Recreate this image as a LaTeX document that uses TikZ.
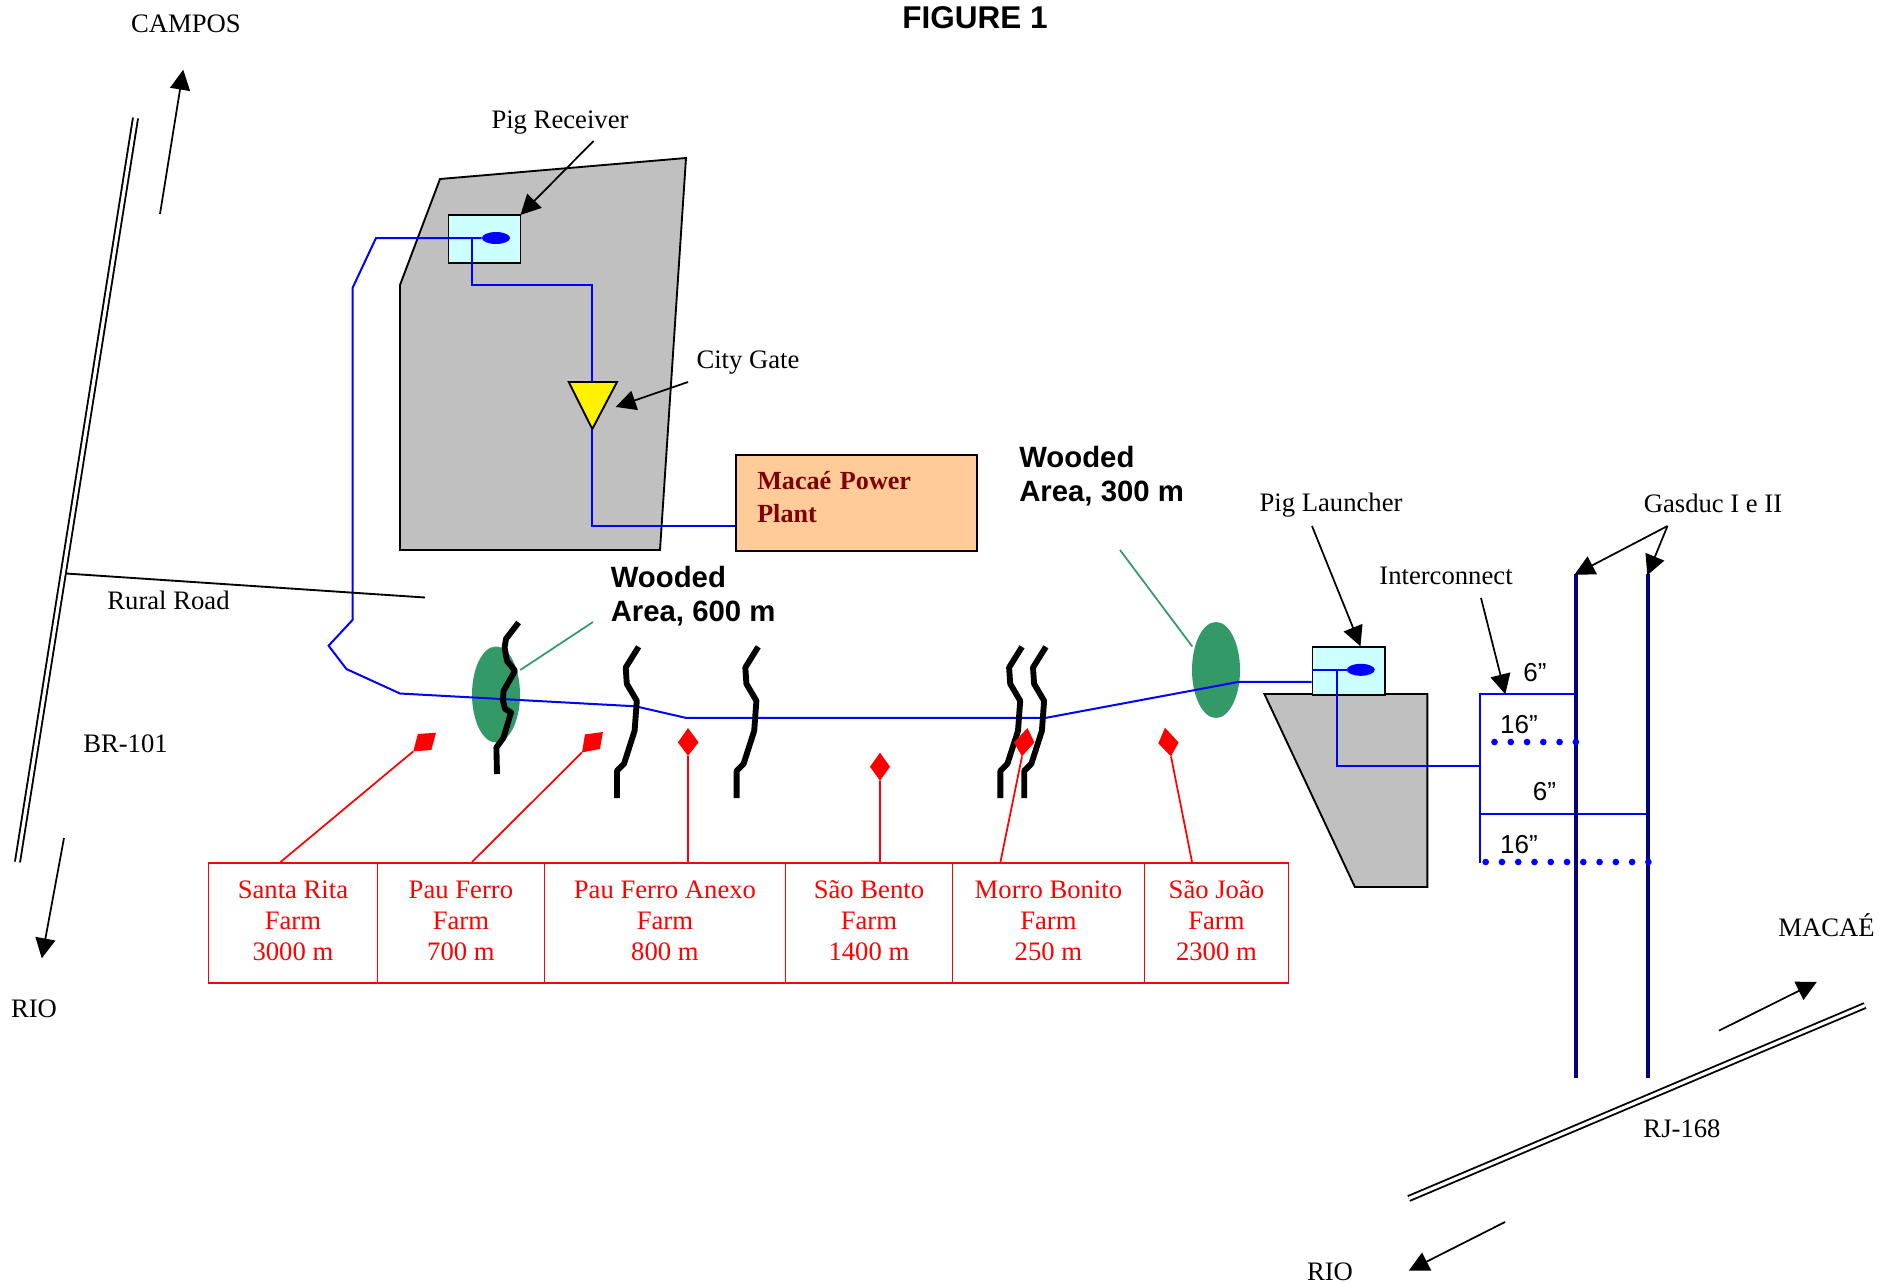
\documentclass[tikz,border=0pt]{standalone}
\usepackage{fontspec}
\setmainfont{Liberation Serif}
\newfontfamily\arialfont{Liberation Sans}
\usetikzlibrary{arrows.meta,shapes.geometric}
\definecolor{pipeblue}{RGB}{0,0,255}
\definecolor{mainblue}{RGB}{0,0,128}
\definecolor{woodgreen}{RGB}{51,153,102}
\definecolor{landgrey}{RGB}{192,192,192}
\definecolor{stationcyan}{RGB}{204,255,255}
\definecolor{plantorange}{RGB}{255,204,153}
\definecolor{plantred}{RGB}{128,0,0}
\tikzset{
  label/.style={inner sep=0pt,font=\fontsize{20}{23.25}\selectfont},
  woodlabel/.style={anchor=west,align=left,inner sep=0pt,font=\arialfont\bfseries\fontsize{22}{25.3}\selectfont},
  sizelabel/.style={inner sep=0pt,font=\arialfont\fontsize{19.5}{23}\selectfont},
  pointer/.style={line width=1.3pt,-{Triangle[length=15pt,width=15pt]},shorten >=-1pt},
  road/.style={line width=1.4pt},
  pipe/.style={pipeblue,line width=1.5pt},
  river/.style={line width=4.4pt,line join=round},
  land/.style={draw=black,fill=landgrey,line width=1.4pt},
  station/.style={draw=black,fill=stationcyan,line width=1.4pt,inner sep=0pt,anchor=north west},
  pig/.style={ellipse,fill=pipeblue,inner sep=0pt,minimum width=21pt,minimum height=9pt},
  wood/.style={ellipse,fill=woodgreen,inner sep=0pt,minimum width=36pt,minimum height=72pt},
  woodline/.style={woodgreen,line width=1.3pt},
  farmbox/.style={draw=red,text=red,line width=1.4pt,inner sep=0pt,anchor=north west,align=center,minimum height=90pt,text depth=3.6pt,font=\fontsize{20}{23.25}\selectfont},
  farmline/.style={red,line width=1.3pt},
  dots/.style={pipeblue,line width=5pt,line cap=round,dash pattern=on 0pt off 12.2pt},
}
\begin{document}
\begin{tikzpicture}[x=0.75pt,y=0.75pt,yscale=-1,xscale=1]
        \useasboundingbox (0,0) rectangle (1888,1283);
        \node[inner sep=0pt,font=\arialfont\bfseries\fontsize{23.6}{27}\selectfont] (title) at (975,18) {FIGURE 1};
        \draw[land] (440,179) -- (686,158) -- (660,550) -- (400,550) -- (400,285) -- cycle;
        \draw[land] (1264.4,694) -- (1427.4,694) -- (1427.4,887) -- (1354.9,887) -- cycle;
        \node[station,minimum width=54pt,minimum height=36pt] (receiver) at (447.5,214) {};
        \node[station,minimum width=54.5pt,minimum height=36pt] (launcher) at (1311.5,646) {};
        \node[wood] (wood600) at (496,694.5) {};
        \node[wood] (wood300) at (1216,670) {};
        \node[pig] (receiverpig) at (496,238) {};
        \node[pig] (launcherpig) at (1360.8,669.8) {};
        \node[draw=black,fill=plantorange,line width=1.4pt,inner xsep=16pt,inner ysep=0pt,anchor=north west,align=left,text width=148.6pt,minimum height=72pt,text depth=34pt,text=plantred,font=\bfseries\fontsize{19.6}{24.5}\selectfont] (plant) at (735,454) {Macaé Power\\Plant};
        \draw[line width=1.4pt,fill=yellow] (568.7,382) coordinate (gatetopleft) -- (617,382) coordinate (gatetopright) -- (592.3,429) coordinate (gatetip) -- cycle;
        \coordinate (gatetop) at (592.3,382);
        \draw[pipe] (receiverpig.west) -- (376,238) -- (352.5,288) -- (352.5,620) -- (328.6,645.7) -- (346.4,669) -- (400,693.5) -- (635.7,706.3) -- (685.7,717.8) -- (1046,717.8) -- (1239,681.8) -- (launcher.west |- 0,681.8);
        \draw[pipe] (472.3,238) -- (472.3,285.3) -- (592.3,285.3) -- (gatetop);
        \draw[pipe] (gatetip) -- (592.3,526) -- (plant.west |- 0,526);
        \draw[pipe] (launcher.west |- launcherpig) -- (launcherpig.west);
        \draw[pipe] (1336.5,669.8) -- (1336.5,765.8) -- (1480,765.8);
        \draw[pipe] (1575.7,694) -- (1480,694) -- (1480,862.5);
        \draw[pipe] (1480,814) -- (1647.8,814);
        \draw[mainblue,line width=2.8pt] (1575.7,574) coordinate (gasduca) -- (1575.7,1077.6);
        \draw[mainblue,line width=2.8pt] (1647.8,574) coordinate (gasducb) -- (1647.8,1077.6);
        \draw[dots] (1494.5,742) -- (1577,742);
        \draw[dots] (1485.7,862) -- (1649,862);
        \draw[river] (518.6,622.5) -- (506,638.8) -- (504.6,647.5) -- (507,660.8) -- (515,670.8) -- (503.6,690.8) -- (503,700.8) -- (505,708.8) -- (511,712.5) -- (503.6,737.5) -- (496.4,747.5) -- (497,774);
        \foreach \riverx in {0,119.6,383.4,407.3}
          \draw[river,xshift=\riverx*0.75pt] (638.6,646.8) -- (625.7,667.5) -- (626.8,683.8) -- (636.8,700.8) -- (634.6,730.8) -- (624,763.8) -- (617,770.8) -- (617,798);
        \draw[woodline] (wood600.east |- 0,670) -- (593,622);
        \draw[woodline] (1192.3,646.5) -- (1120,550);
        \node[farmbox,minimum width=126.75pt] (santa) at (207.5,862) {Santa Rita\\Farm\\3000 m};
        \node[farmbox,minimum width=125.25pt] (pauferro) at (376.5,862) {Pau Ferro\\Farm\\700 m};
        \node[farmbox,minimum width=180.75pt] (anexo) at (543.5,862) {Pau Ferro Anexo\\Farm\\800 m};
        \node[farmbox,minimum width=125.25pt] (bento) at (784.5,862) {São Bento\\Farm\\1400 m};
        \node[farmbox,minimum width=144pt] (morro) at (951.5,862) {Morro Bonito\\Farm\\250 m};
        \node[farmbox,minimum width=108pt] (joao) at (1143.5,862) {São João\\Farm\\2300 m};
        \fill[red] (417.9,734) -- (436,732.7) -- (431.4,750) -- (413.2,751.4) coordinate (santamark) -- cycle;
        \fill[red] (585,734.4) -- (602.9,732) -- (600,749) -- (582,752.4) coordinate (pauferromark) -- cycle;
        \fill[red] (688,728) -- (698.6,742.4) -- (688,755.7) coordinate (anexomark) -- (677.9,742.4) -- cycle;
        \fill[red] (880,752.7) -- (890,766.7) -- (880,780.7) coordinate (bentomark) -- (870,766.7) -- cycle;
        \fill[red] (1027.5,728) -- (1034.4,742.4) -- (1022,756.4) coordinate (morromark) -- (1014,742.4) -- cycle;
        \fill[red] (1165,727.7) -- (1178.6,742.4) -- (1171,756.4) coordinate (joaomark) -- (1158.3,743.4) -- cycle;
        \draw[farmline] (santamark) -- ([xshift=54.8pt]santa.north west);
        \draw[farmline] (pauferromark) -- ([xshift=71.6pt]pauferro.north west);
        \draw[farmline] (anexomark) -- ([xshift=108.4pt]anexo.north west);
        \draw[farmline] (bentomark) -- ([xshift=71.6pt]bento.north west);
        \draw[farmline] (morromark) -- ([xshift=36.7pt]morro.north west);
        \draw[farmline] (joaomark) -- ([xshift=36.4pt]joao.north west);
        \draw[road,double,double distance=2.4pt] (135.5,118) coordinate (brtop) -- (17.5,862) coordinate (brbottom);
        \draw[road] (66,573.5) coordinate (ruralstart) -- (425,597.5) coordinate (ruralend);
        \draw[road,double,double distance=2.4pt] (1408.7,1198.5) coordinate (rjleft) -- (1865,1005.5) coordinate (rjright);
        \coordinate (campostail) at (160,214);
        \coordinate (campostip) at (183,71);
        \coordinate (riotail) at (64,838);
        \coordinate (riotip) at (42,957);
        \coordinate (macaetail) at (1719,1030.6);
        \coordinate (macaetip) at (1815.6,982.5);
        \coordinate (riobottomtail) at (1505,1222);
        \coordinate (riobottomtip) at (1410,1270);
        \coordinate (receivertail) at (593.6,140.9);
        \coordinate (gatetail) at (688,382);
        \coordinate (gatehead) at (617,406.5);
        \coordinate (launchertail) at (1312,526);
        \coordinate (launcherhead) at (1360,645);
        \coordinate (connecttail) at (1481,598);
        \coordinate (connecthead) at (1505,693);
        \coordinate (gasducapex) at (1667.5,526);
        \draw[pointer] (campostail) -- (campostip);
        \draw[pointer] (riotail) -- (riotip);
        \draw[pointer] (macaetail) -- (macaetip);
        \draw[pointer] (riobottomtail) -- (riobottomtip);
        \draw[pointer] (receivertail) -- (receiver.north east);
        \draw[pointer] (gatetail) -- (gatehead);
        \draw[pointer] (launchertail) -- (launcherhead);
        \draw[pointer] (connecttail) -- (connecthead);
        \draw[pointer] (gasducapex) -- (gasduca);
        \draw[pointer] (gasducapex) -- (gasducb);
        \node[label] (campos) at (186,24) {CAMPOS};
        \node[label] (piglabel) at (560,122.6) {Pig Receiver};
        \node[label] (gatelabel) at (748,362.6) {City Gate};
        \node[woodlabel] (woodlabela) at (1019,476.4) {Wooded\\Area, 300 m};
        \node[woodlabel] (woodlabelb) at (610.5,596.4) {Wooded\\Area, 600 m};
        \node[label] (launchlabel) at (1331,505.4) {Pig Launcher};
        \node[label] (gasduclabel) at (1713,503) {Gasduc I e II};
        \node[label] (connectlabel) at (1446,575.5) {Interconnect};
        \node[label] (rurallabel) at (168.5,600) {Rural Road};
        \node[label] (brlabel) at (125.5,744) {BR-101};
        \node[label] (riolabel) at (34,1009) {RIO};
        \node[label] (macaelabel) at (1826.5,925) {MACAÉ};
        \node[label] (rjlabel) at (1682,1129) {RJ-168};
        \node[label] (riobottomlabel) at (1330,1271.5) {RIO};
        \node[sizelabel] (sizea) at (1535,672.5) {6”};
        \node[sizelabel] (sizeb) at (1519,724.4) {16”};
        \node[sizelabel] (sizec) at (1544.5,792) {6”};
        \node[sizelabel] (sized) at (1519,844.4) {16”};
        \end{tikzpicture}
\end{document}
